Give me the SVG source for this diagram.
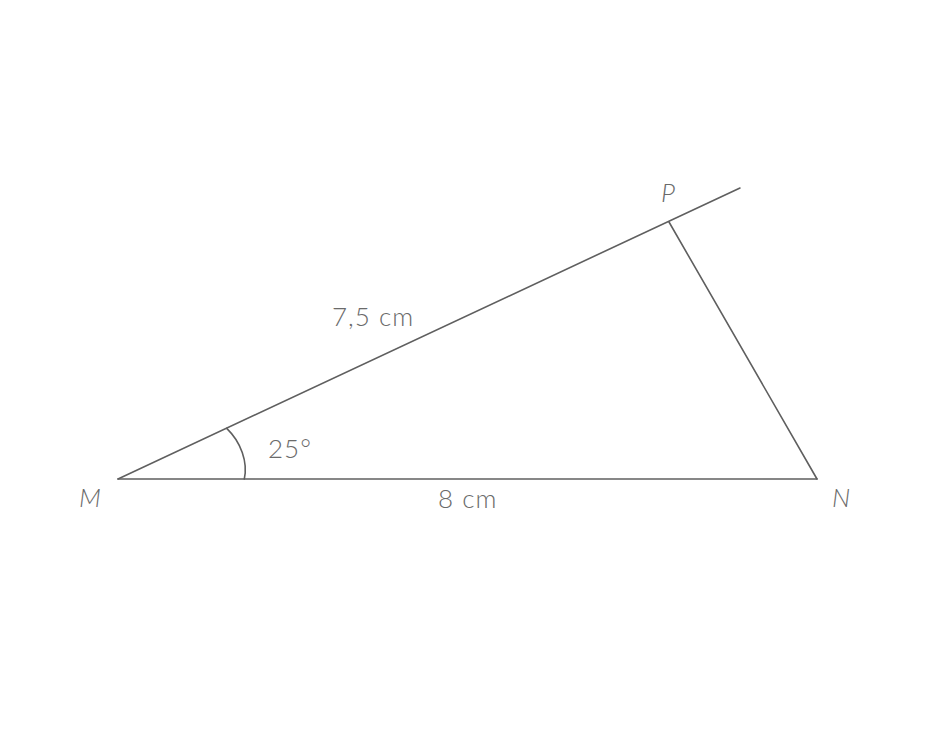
<svg xmlns="http://www.w3.org/2000/svg" width="936" height="753" viewBox="0 0 936 753">
<style>
.ln{stroke:#5f5f5f;stroke-width:1.6;fill:none;stroke-linecap:round}
text{font-family:Lato,"Noto Sans","DejaVu Sans",sans-serif;font-weight:300;font-size:26px;letter-spacing:1px;fill:#6a6a6a}
.it{font-style:italic}
</style>
<rect width="936" height="753" fill="#fff"/>
<g id="connectors">
<line class="ln" x1="118" y1="479" x2="817" y2="479"/>
<line class="ln" x1="118" y1="479" x2="740" y2="188"/>
<line class="ln" x1="669" y1="222" x2="817" y2="479"/>
<path class="ln" d="M244.3,479 C248,462 241,442 226.7,428.3"/>
</g>
<g id="M"><text class="it" x="79" y="507">M</text></g>
<g id="N"><text class="it" x="832" y="507">N</text></g>
<g id="P"><text class="it" x="661" y="202">P</text></g>
<g id="labels">
<text x="332" y="326">7,5 cm</text>
<text x="438" y="508">8 cm</text>
<text x="268" y="458">25°</text>
</g>
</svg>
